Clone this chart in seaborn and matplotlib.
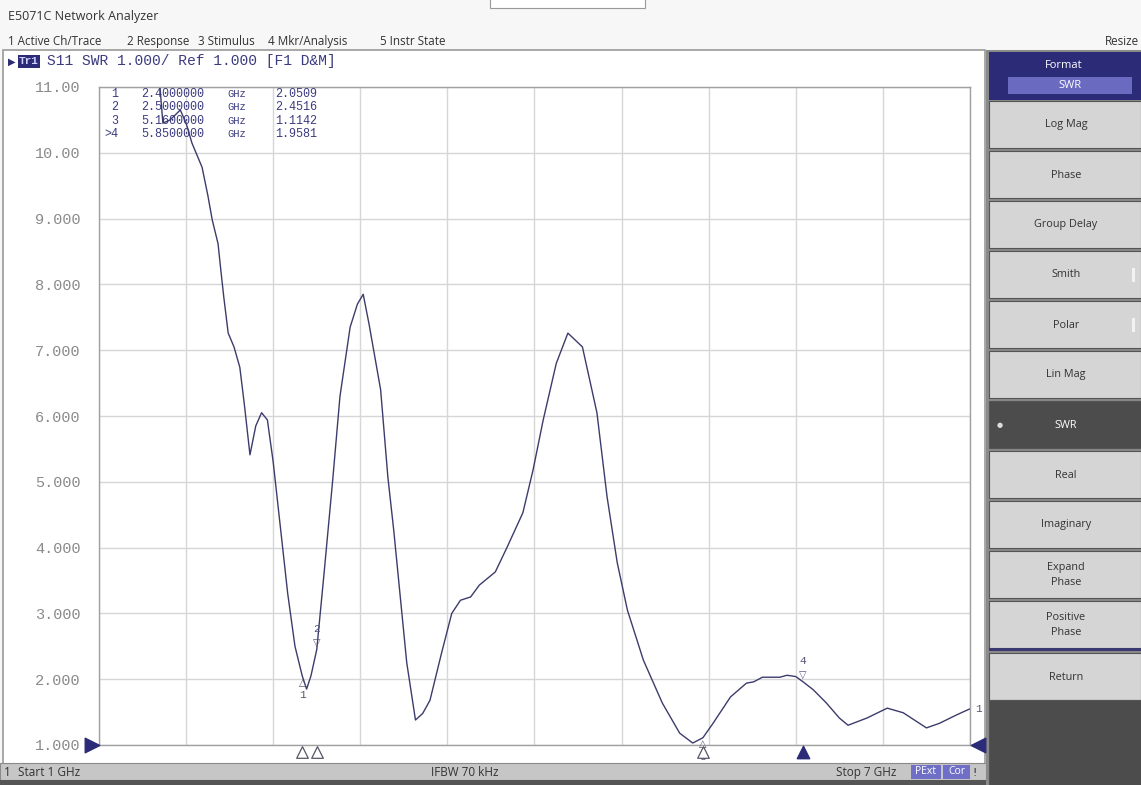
import matplotlib
matplotlib.use("Agg")

import numpy as np
import pandas as pd
import matplotlib.pyplot as plt
import seaborn as sns
from matplotlib.patches import Rectangle

sns.set_style("white")
plt.rcParams["font.family"] = ["DejaVu Sans"]

# S11 SWR trace (GHz, SWR)
freq_ghz = [1.00, 1.20, 1.38, 1.42, 1.44, 1.49, 1.56, 1.60, 1.64, 1.71, 1.75, 1.78,
            1.82, 1.84, 1.86, 1.89, 1.93, 1.97, 2.00, 2.04, 2.08, 2.12, 2.16, 2.20,
            2.25, 2.30, 2.35, 2.40, 2.43, 2.46, 2.50, 2.55, 2.61, 2.66, 2.73, 2.78,
            2.82, 2.86, 2.94, 2.99, 3.03, 3.12, 3.18, 3.23, 3.28, 3.36, 3.43, 3.49,
            3.56, 3.62, 3.73, 3.81, 3.92, 3.99, 4.06, 4.15, 4.23, 4.33, 4.43, 4.50,
            4.57, 4.64, 4.75, 4.88, 5.00, 5.09, 5.16, 5.23, 5.35, 5.46, 5.51, 5.57,
            5.69, 5.74, 5.80, 5.85, 5.92, 6.01, 6.10, 6.16, 6.29, 6.43, 6.54, 6.70,
            6.79, 6.91, 7.00]
swr = [13.5, 12.8, 11.6, 11.0, 10.45, 10.50, 10.65, 10.45, 10.15, 9.78, 9.35, 8.98,
       8.62, 8.20, 7.80, 7.26, 7.05, 6.74, 6.20, 5.41, 5.85, 6.05, 5.94, 5.30,
       4.30, 3.30, 2.50, 2.05, 1.85, 2.05, 2.45, 3.60, 5.03, 6.30, 7.35, 7.70,
       7.85, 7.40, 6.40, 5.07, 4.27, 2.25, 1.38, 1.48, 1.68, 2.40, 3.00, 3.20,
       3.25, 3.43, 3.63, 4.00, 4.53, 5.18, 5.94, 6.80, 7.26, 7.05, 6.05, 4.77,
       3.77, 3.05, 2.29, 1.64, 1.18, 1.03, 1.11, 1.33, 1.73, 1.94, 1.96, 2.03,
       2.03, 2.06, 2.04, 1.96, 1.84, 1.64, 1.41, 1.30, 1.41, 1.56, 1.49, 1.26,
       1.33, 1.46, 1.55]

marker_ids = ["1", "2", "3", ">4"]
marker_freq = [2.40, 2.50, 5.16, 5.85]
marker_swr = [2.0509, 2.4516, 1.1142, 1.9581]

y_ticks = [1, 2, 3, 4, 5, 6, 7, 8, 9, 10, 11]
y_tick_labels = ["1.000", "2.000", "3.000", "4.000", "5.000", "6.000",
                 "7.000", "8.000", "9.000", "10.00", "11.00"]

menu_items = ["1 Active Ch/Trace", "2 Response", "3 Stimulus", "4 Mkr/Analysis", "5 Instr State"]
format_buttons = ["Log Mag", "Phase", "Group Delay", "Smith", "Polar", "Lin Mag", "SWR",
                  "Real", "Imaginary", "Expand\nPhase", "Positive\nPhase", "Return"]

W, H = 1141, 785
NAVY = "#2b2b78"
TRACE = "#3c3c6c"
MONO = "Liberation Mono"
UI = "Open Sans"

fig = plt.figure(figsize=(W / 100, H / 100), dpi=100, facecolor="#f7f7f7")


def px_rect(x, y, w, h, **kw):
    kw.setdefault("zorder", -5)
    fig.add_artist(Rectangle((x / W, 1 - (y + h) / H), w / W, h / H,
                             transform=fig.transFigure, **kw))


def px_text(x, y, s, **kw):
    fig.text(x / W, 1 - y / H, s, **kw)


# window chrome
px_rect(490, -5, 155, 13, facecolor="white", edgecolor="#999999", lw=0.8)
px_text(8, 20, "E5071C Network Analyzer", fontsize=9, color="#333333", va="baseline", family=UI)
menu_x = [8, 127, 198, 268, 380]
for mx, item in zip(menu_x, menu_items):
    px_text(mx, 45, item, fontsize=8.4, color="#333333", va="baseline", family=UI)
px_text(1139, 45, "Resize", fontsize=8.4, color="#333333", va="baseline", ha="right", family=UI)

# chart window
px_rect(3, 50, 982, 714, facecolor="white", edgecolor="#9a9a9a", lw=1.2)
px_rect(18, 55, 22, 13, facecolor=NAVY, edgecolor="none")
px_text(29, 61.5, "Tr1", fontsize=8, color="#d0d0ff", ha="center", va="center",
        family=MONO, fontweight="bold")
px_text(12, 61.5, "\u25B6", fontsize=7, color=NAVY, ha="center", va="center")
px_text(47, 61.5, "S11 SWR 1.000/ Ref 1.000 [F1 D&M]", fontsize=10.5, color="#3b3b80",
        va="center", family=MONO)

# status bar
px_rect(0, 763, 986, 17, facecolor="#c6c6c6", edgecolor="#8a8a8a", lw=0.8)
px_rect(0, 780, 986, 6, facecolor="#555555", edgecolor="none")
px_text(4, 776, "1", fontsize=8.5, color="#333333", va="baseline", family=UI)
px_text(18, 776, "Start 1 GHz", fontsize=8.5, color="#333333", va="baseline", family=UI)
px_text(431, 776, "IFBW 70 kHz", fontsize=8.5, color="#333333", va="baseline", family=UI)
px_text(836, 776, "Stop 7 GHz", fontsize=8.5, color="#333333", va="baseline", family=UI)
px_rect(911, 765, 30, 14, facecolor="#6f6fc8", edgecolor="none")
px_text(926, 772, "PExt", fontsize=7.5, color="white", ha="center", va="center", family=UI)
px_rect(943, 765, 27, 14, facecolor="#6f6fc8", edgecolor="none")
px_text(956.5, 772, "Cor", fontsize=7.5, color="white", ha="center", va="center", family=UI)
px_text(975, 776, "!", fontsize=8, color="#333333", va="baseline", ha="center")

# softkey panel
px_rect(986, 50, 155, 735, facecolor="#8a8a8a", edgecolor="none")
px_rect(989, 52, 152, 48, facecolor=NAVY, edgecolor="none")
px_text(1064, 66, "Format", fontsize=8, color="white", ha="center", va="center", family=UI)
px_rect(1008, 77, 124, 17, facecolor="#6a6ac0", edgecolor="none")
px_text(1070, 85.5, "SWR", fontsize=8, color="white", ha="center", va="center", family=UI)
for i, label in enumerate(format_buttons):
    top = 100 + 50 * i + (2 if label == "Return" else 0)
    active = label == "SWR"
    px_rect(989, top + 1, 152, 47, facecolor="#4c4c4c" if active else "#d5d5d5",
            edgecolor="#555555", lw=0.8)
    px_text(1066, top + 25, label, fontsize=7.8, color="white" if active else "#333333",
            ha="center", va="center", family=UI, linespacing=1.5)
    if active:
        px_text(1000, top + 25, "\u25CF", fontsize=5, color="#dddddd", ha="center", va="center")
    if label in ("Smith", "Polar"):
        px_rect(1132, top + 18, 3, 14, facecolor="#f2f2f2", edgecolor="none")
px_rect(989, 648, 152, 3, facecolor="#3a3a70", edgecolor="none")
px_rect(989, 700, 152, 85, facecolor="#4c4c4c", edgecolor="#555555", lw=0.8)

# plot area
ax = fig.add_axes([99 / W, 1 - 745 / H, 871 / W, 658 / H])
ax.set_facecolor("white")
df = pd.DataFrame({"freq": freq_ghz, "swr": swr})
sns.lineplot(data=df, x="freq", y="swr", ax=ax, color=TRACE, lw=1.0, sort=False)

ax.set_xlim(1, 7)
ax.set_ylim(1, 11)
ax.set_xticks(np.linspace(1, 7, 11))
ax.set_xticklabels([])
ax.set_yticks(y_ticks)
ax.set_yticklabels(y_tick_labels, family=MONO, fontsize=11, color="#8a8a8a")
ax.tick_params(axis="both", length=0)
ax.tick_params(axis="y", pad=13)
ax.grid(True, color="#d6d6d6", lw=1)
for s in ax.spines.values():
    s.set_color("#a0a0a0")
    s.set_linewidth(1)
ax.set_xlabel("")
ax.set_ylabel("")

# marker readout table
row_y = [0.989, 0.969, 0.948, 0.928]
for rid, f, v, ry in zip(marker_ids, marker_freq, marker_swr, row_y):
    ax.text(0.022, ry, rid, transform=ax.transAxes, family=MONO, fontsize=8.5,
            color="#3b3b80", ha="right", va="center")
    ax.text(0.049, ry, f"{f:.7f}", transform=ax.transAxes, family=MONO, fontsize=8.5,
            color="#3b3b80", va="center")
    ax.text(0.147, ry, "GHz", transform=ax.transAxes, family=MONO, fontsize=7.5,
            color="#3b3b80", va="center")
    ax.text(0.202, ry, f"{v:.4f}", transform=ax.transAxes, family=MONO, fontsize=8.5,
            color="#3b3b80", va="center")

# markers on the trace
for rid, f, v in zip(["1", "2", "3", "4"], marker_freq, marker_swr):
    below = rid in ("1", "3")
    ax.annotate("\u25B3" if below else "\u25BD", (f, v), xytext=(0, -5 if below else 5),
                textcoords="offset points", ha="center", va="center", fontsize=7, color="#555577")
    ax.annotate(rid, (f, v), xytext=(0, -14 if below else 15), textcoords="offset points",
                ha="center", va="center", fontsize=8, color="#555577", family=MONO)

# stimulus markers under the axis
xt = ax.get_xaxis_transform()
ax.scatter(marker_freq[:3], [-0.011] * 3, transform=xt, marker="^", s=70,
           facecolors="white", edgecolors="#555566", lw=0.9, clip_on=False, zorder=5)
ax.scatter([marker_freq[3]], [-0.011], transform=xt, marker="^", s=80,
           color=NAVY, clip_on=False, zorder=5)

# reference level arrows and trace number
yt = ax.get_yaxis_transform()
ax.scatter([-0.008], [1], transform=yt, marker=">", s=110, color=NAVY, clip_on=False, zorder=5)
ax.scatter([1.009], [1], transform=yt, marker="<", s=110, color=NAVY, clip_on=False, zorder=5)
ax.annotate("1", (freq_ghz[-1], swr[-1]), xytext=(4, 0), textcoords="offset points",
            ha="left", va="center", fontsize=8, color="#555577", family=MONO,
            annotation_clip=False)

plt.savefig("out.png", dpi=100)
plt.close()
print("Saved: out.png")
